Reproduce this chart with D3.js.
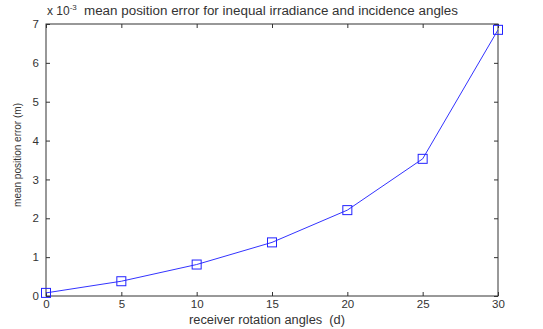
<!DOCTYPE html>
<html>
<head>
<meta charset="utf-8">
<script src="https://cdn.jsdelivr.net/npm/d3@7"></script>
<style>
  body { margin: 0; background: #fff; }
  text { font-family: "Liberation Sans", Arial, sans-serif; fill: #333; }
</style>
</head>
<body>
<div id="chart"></div>
<script>
// data (values in units of 1e-3 m)
var angles = [0, 5, 10, 15, 20, 25, 30];
var errors = [0.08, 0.38, 0.81, 1.38, 2.21, 3.53, 6.85];
var xTicks = [0, 5, 10, 15, 20, 25, 30];
var yTicks = [0, 1, 2, 3, 4, 5, 6, 7];

var width = 543, height = 329;
var margin = {top: 24, right: 45, bottom: 33, left: 46};

var svg = d3.select("#chart").append("svg")
    .attr("width", width)
    .attr("height", height);

var x = d3.scaleLinear().domain([0, 30]).range([margin.left, width - margin.right]);
var y = d3.scaleLinear().domain([0, 7]).range([height - margin.bottom, margin.top]);

//box
svg.append("rect")
    .attr("x", x(0)).attr("y", y(7))
    .attr("width", x(30) - x(0)).attr("height", y(0) - y(7))
    .attr("fill", "none").attr("stroke", "#333").attr("stroke-width", 1);

//axes, ticks pointing inward
svg.append("g")
    .attr("transform", "translate(0," + y(0) + ")")
    .call(d3.axisBottom(x).tickValues(xTicks).tickSizeInner(-4).tickSizeOuter(0).tickPadding(4))
    .call(g => g.select(".domain").remove());
svg.append("g")
    .attr("transform", "translate(0," + y(7) + ")")
    .call(d3.axisTop(x).tickValues(xTicks).tickSizeInner(-4).tickSizeOuter(0).tickFormat(""))
    .call(g => g.select(".domain").remove());
svg.append("g")
    .attr("transform", "translate(" + x(0) + ",0)")
    .call(d3.axisLeft(y).tickValues(yTicks).tickFormat(d3.format("d")).tickSizeInner(-4).tickSizeOuter(0).tickPadding(7))
    .call(g => g.select(".domain").remove());
svg.append("g")
    .attr("transform", "translate(" + x(30) + ",0)")
    .call(d3.axisRight(y).tickValues(yTicks).tickSizeInner(-4).tickSizeOuter(0).tickFormat(""))
    .call(g => g.select(".domain").remove());

svg.selectAll(".tick line").attr("stroke", "#333");
svg.selectAll(".tick text").style("font-size", "11.5px").attr("fill", "#333");

//line and markers
var line = d3.line()
    .x((d, i) => x(angles[i]))
    .y(d => y(d));

svg.append("path")
    .datum(errors)
    .attr("d", line)
    .attr("fill", "none")
    .attr("stroke", "#3333ff")
    .attr("stroke-width", 1);

svg.selectAll(".marker")
    .data(errors)
    .enter()
    .append("rect")
    .attr("class", "marker")
    .attr("x", (d, i) => x(angles[i]) - 4.5)
    .attr("y", d => y(d) - 4.5)
    .attr("width", 9)
    .attr("height", 9)
    .attr("fill", "none")
    .attr("stroke", "#2222ff")
    .attr("stroke-width", 1);

//title with exponent
var expo = svg.append("text")
    .attr("x", 47)
    .attr("y", 15)
    .style("font-size", "12px");
expo.append("tspan").text("x 10");
expo.append("tspan").attr("dy", -5).style("font-size", "8px").text("-3");

svg.append("text")
    .attr("x", 84)
    .attr("y", 15)
    .attr("textLength", 374)
    .attr("lengthAdjust", "spacingAndGlyphs")
    .style("font-size", "12.5px")
    .text("mean position error for inequal irradiance and incidence angles");

//axis labels
svg.append("text")
    .attr("x", 267)
    .attr("y", 324)
    .attr("text-anchor", "middle")
    .attr("xml:space", "preserve")
    .attr("textLength", 156)
    .attr("lengthAdjust", "spacingAndGlyphs")
    .style("font-size", "12px")
    .text("receiver rotation angles  (d)");

svg.append("text")
    .attr("transform", "translate(21,155) rotate(-90)")
    .attr("text-anchor", "middle")
    .style("font-size", "10px")
    .text("mean position error (m)");
</script>
</body>
</html>
